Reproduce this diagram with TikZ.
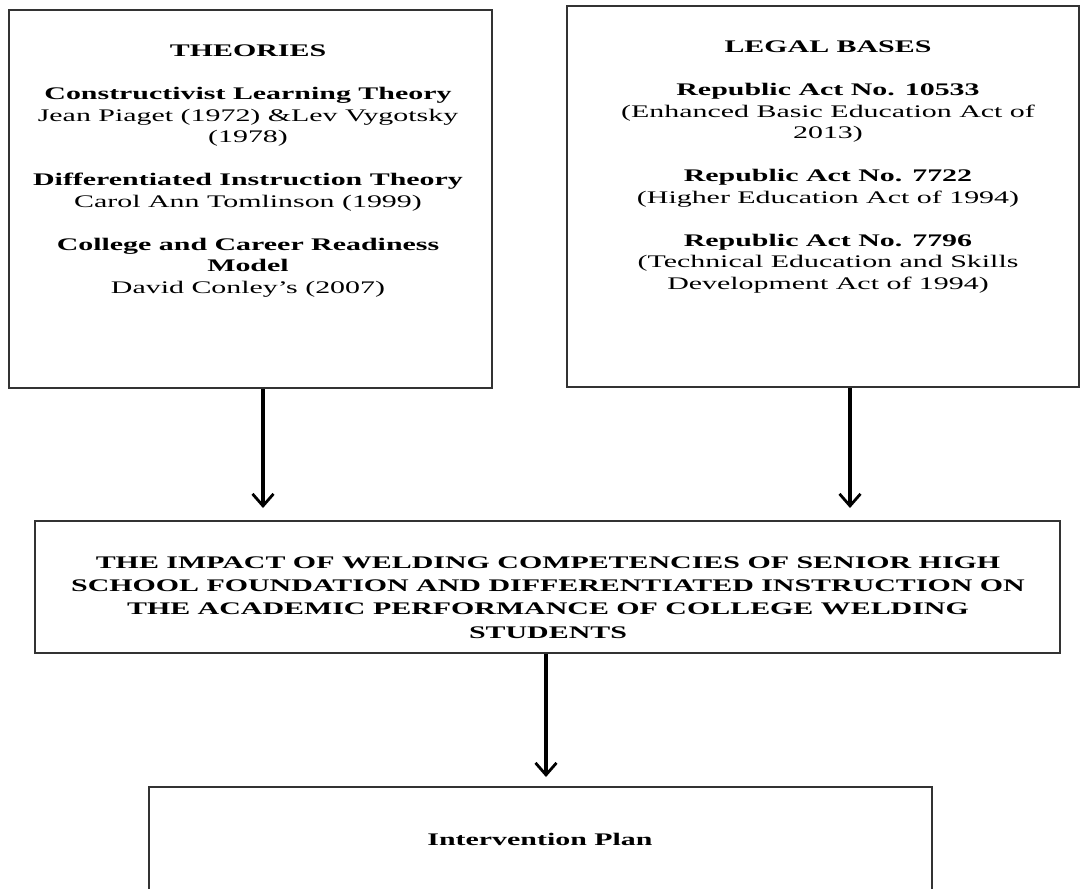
\documentclass[tikz,border=0pt]{standalone}
\usepackage{fontspec}
\setmainfont{Liberation Serif}[FakeStretch=1.69]
\usetikzlibrary{arrows.meta}
\begin{document}
\begin{tikzpicture}[x=1pt,y=-1pt,
  box/.style={draw=black!80, line width=1.9pt, inner sep=0pt},
  txt/.style={align=center, inner sep=0pt, anchor=base, font=\fontsize{17.7}{21.5}\selectfont},
  arr/.style={draw=black, line width=3.2pt, -{Straight Barb[length=12pt,width=21pt,line width=2.8pt]}}]
\useasboundingbox (0,0) rectangle (1083,888);
\clip (0,0) rectangle (1083,888);
% boxes
\node[box, minimum width=483pt, minimum height=378pt] (theories) at (250.5,199) {};
\node[box, minimum width=512pt, minimum height=381pt] (legal) at (823,196.5) {};
\node[box, minimum width=1025pt, minimum height=132pt] (impact) at (547.5,587) {};
\node[box, minimum width=783pt, minimum height=108pt] (plan) at (540.5,841) {};
% texts (base anchor = baseline of the last line)
\node[txt] (thtxt) at (248,293) {\textbf{THEORIES}\\[21.5pt]
  \textbf{Constructivist Learning Theory}\\
  Jean Piaget (1972) \&Lev Vygotsky\\
  (1978)\\[21.5pt]
  \textbf{Differentiated Instruction Theory}\\
  Carol Ann Tomlinson (1999)\\[21.5pt]
  \textbf{College and Career Readiness}\\
  \textbf{Model}\\
  David Conley’s (2007)};
\node[txt] (lgtxt) at (828,289) {\textbf{LEGAL BASES}\\[21.5pt]
  \textbf{Republic Act No. 10533}\\
  (Enhanced Basic Education Act of\\
  2013)\\[21.5pt]
  \textbf{Republic Act No. 7722}\\
  (Higher Education Act of 1994)\\[21.5pt]
  \textbf{Republic Act No. 7796}\\
  (Technical Education and Skills\\
  Development Act of 1994)};
\node[txt, font=\fontsize{17.7}{23.3}\selectfont\bfseries] (imtxt) at (548,638) {THE IMPACT OF WELDING COMPETENCIES OF SENIOR HIGH\\
  SCHOOL FOUNDATION AND DIFFERENTIATED INSTRUCTION ON\\
  THE ACADEMIC PERFORMANCE OF COLLEGE WELDING\\
  STUDENTS};
\node[txt, font=\fontsize{17.7}{21.5}\selectfont\bfseries] (pltxt) at (540,845) {Intervention Plan};
% arrows
\coordinate (ta) at (263,508);
\coordinate (tb) at (850,508);
\coordinate (tc) at (546,777);
\draw[arr] (theories.south -| ta) -- (ta);
\draw[arr] (legal.south -| tb) -- (tb);
\draw[arr] (impact.south -| tc) -- (tc);
\end{tikzpicture}
\end{document}
